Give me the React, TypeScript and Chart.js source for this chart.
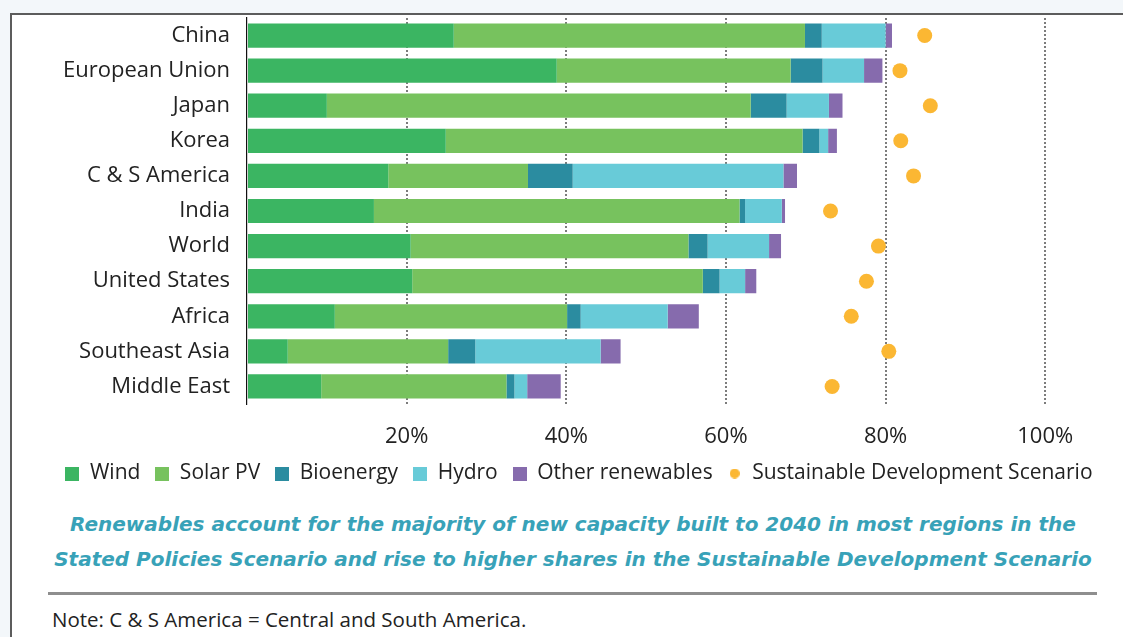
import React, { useEffect, useRef } from "react";
import { Chart, registerables } from "chart.js";

Chart.register(...registerables);

const regions = [
  "China",
  "European Union",
  "Japan",
  "Korea",
  "C & S America",
  "India",
  "World",
  "United States",
  "Africa",
  "Southeast Asia",
  "Middle East",
];

const wind = [25.9, 38.8, 10.0, 24.9, 17.7, 15.9, 20.5, 20.7, 11.0, 5.1, 9.3];
const solarPV = [44.0, 29.3, 53.1, 44.7, 17.5, 45.8, 34.8, 36.4, 29.1, 20.1, 23.2];
const bioenergy = [2.1, 4.0, 4.5, 2.1, 5.6, 0.7, 2.4, 2.1, 1.7, 3.4, 1.0];
const hydro = [8.0, 5.2, 5.3, 1.1, 26.4, 4.6, 7.7, 3.2, 10.9, 15.7, 1.6];
const otherRenewables = [0.8, 2.3, 1.7, 1.1, 1.7, 0.4, 1.5, 1.4, 3.9, 2.5, 4.2];
const sustainableDev = [84.9, 81.8, 85.6, 81.9, 83.5, 73.1, 79.1, 77.6, 75.7, 80.4, 73.3];

const xTickValues = [0, 20, 40, 60, 80, 100];

const COLORS = {
  wind: "#3bb562",
  solar: "#77c25e",
  bio: "#2b8ca0",
  hydro: "#68cbd8",
  other: "#866bad",
  dot: "#fbb733",
};

const FONT = "'Open Sans', sans-serif";
const TEXT = "#222222";

function makeIcon(color: string, shape: "rect" | "circle"): HTMLCanvasElement {
  const c = document.createElement("canvas");
  const size = shape === "rect" ? 14 : 10;
  c.width = size;
  c.height = size;
  const ctx = c.getContext("2d")!;
  ctx.fillStyle = color;
  if (shape === "rect") {
    ctx.fillRect(0, 0, size, size);
  } else {
    ctx.beginPath();
    ctx.arc(size / 2, size / 2, size / 2, 0, Math.PI * 2);
    ctx.fill();
  }
  return c;
}

export default function App() {
  const canvasRef = useRef<HTMLCanvasElement | null>(null);

  useEffect(() => {
    if (!canvasRef.current) return;
    const barDs = (label: string, data: number[], color: string) => ({
      type: "bar" as const,
      label,
      data,
      backgroundColor: color,
      borderWidth: 0,
      stack: "re",
      categoryPercentage: 1,
      barPercentage: 0.69,
      order: 2,
    });
    const icons = [
      makeIcon(COLORS.wind, "rect"),
      makeIcon(COLORS.solar, "rect"),
      makeIcon(COLORS.bio, "rect"),
      makeIcon(COLORS.hydro, "rect"),
      makeIcon(COLORS.other, "rect"),
      makeIcon(COLORS.dot, "circle"),
    ];
    const chart = new Chart(canvasRef.current, {
      type: "bar",
      data: {
        labels: regions,
        datasets: [
          barDs("Wind", wind, COLORS.wind),
          barDs("Solar PV", solarPV, COLORS.solar),
          barDs("Bioenergy", bioenergy, COLORS.bio),
          barDs("Hydro", hydro, COLORS.hydro),
          barDs("Other renewables", otherRenewables, COLORS.other),
          {
            type: "line" as const,
            label: "Sustainable Development Scenario",
            data: sustainableDev,
            indexAxis: "y",
            showLine: false,
            pointRadius: 7.5,
            pointHoverRadius: 7.5,
            pointBackgroundColor: COLORS.dot,
            pointBorderWidth: 0,
            borderColor: COLORS.dot,
            backgroundColor: COLORS.dot,
            stack: "sds",
            order: 1,
          } as any,
        ],
      },
      options: {
        indexAxis: "y",
        animation: false,
        responsive: false,
        maintainAspectRatio: false,
        layout: { padding: { top: 18, left: 0, right: 0, bottom: 0 } },
        scales: {
          x: {
            type: "linear",
            stacked: true,
            min: 0,
            max: 108.8,
            afterBuildTicks: (scale: any) => {
              scale.ticks = xTickValues.map((v) => ({ value: v }));
            },
            afterFit: (scale: any) => {
              scale.height = 44;
            },
            border: { display: false, dash: [2, 2] },
            grid: {
              drawTicks: false,
              color: (ctx: any) => (ctx.tick && ctx.tick.value === 0 ? "rgba(0,0,0,0)" : "#7c7c7c"),
              lineWidth: 2,
            },
            ticks: {
              padding: 20,
              color: TEXT,
              font: { family: FONT, size: 22 },
              callback: (v: any) => (Number(v) === 0 ? "" : v + "%"),
            },
          } as any,
          y: {
            stacked: true,
            afterFit: (scale: any) => {
              scale.width = 247;
              scale.paddingTop = 0;
              scale.paddingBottom = 0;
            },
            grid: { display: false, drawTicks: false },
            border: { display: true, color: "#111", width: 1.2 },
            ticks: {
              padding: 17,
              color: TEXT,
              font: { family: FONT, size: 22 },
            },
          },
        },
        plugins: {
          legend: {
            position: "bottom",
            align: "center",
            labels: {
              usePointStyle: true,
              boxWidth: 14,
              boxHeight: 14,
              padding: 15,
              color: TEXT,
              font: { family: FONT, size: 21 },
              generateLabels: (ch: any) =>
                ch.data.datasets.map((ds: any, i: number) => ({
                  text: ds.label,
                  fillStyle: ds.backgroundColor,
                  strokeStyle: ds.backgroundColor,
                  lineWidth: 0,
                  pointStyle: icons[i],
                  hidden: false,
                  datasetIndex: i,
                  fontColor: TEXT,
                })),
            },
          },
          tooltip: { enabled: false },
        },
      },
      plugins: [
        {
          id: "shiftLegend",
          afterLayout: (ch: any) => {
            const lg = ch.legend;
            if (lg) {
              const shift = 579 - (lg.left + lg.right) / 2;
              lg.left += shift;
              lg.right += shift;
            }
          },
        },
      ],
    });
    return () => chart.destroy();
  }, []);

  return (
    <div
      style={{
        position: "fixed",
        left: 0,
        top: 0,
        width: 1123,
        height: 637,
        background: "#f3f7fa",
        overflow: "hidden",
      }}
    >
      <div
        style={{
          position: "absolute",
          left: 10,
          top: 13,
          width: 1123,
          height: 640,
          background: "#fff",
          borderLeft: "2px solid #5c5c5c",
          borderTop: "2px solid #5c5c5c",
        }}
      />
      <canvas
        ref={canvasRef}
        width={1123}
        height={494}
        style={{ position: "absolute", left: 0, top: 0, width: 1123, height: 494 }}
      />
      <div
        style={{
          position: "absolute",
          left: 40,
          top: 507,
          width: 1066,
          textAlign: "center",
          color: "#38a2b8",
          fontFamily: "'DejaVu Sans', sans-serif",
          fontStyle: "oblique",
          fontWeight: 700,
          fontSize: 20,
          lineHeight: "35px",
          whiteSpace: "nowrap",
        }}
      >
        Renewables account for the majority of new capacity built to 2040 in most regions in the
        <br />
        Stated Policies Scenario and rise to higher shares in the Sustainable Development Scenario
      </div>
      <div
        style={{
          position: "absolute",
          left: 48,
          top: 592,
          width: 1049,
          height: 3,
          background: "#8e8e8e",
        }}
      />
      <div
        style={{
          position: "absolute",
          left: 52,
          top: 606,
          color: TEXT,
          fontFamily: FONT,
          fontSize: 20.5,
          lineHeight: "26px",
          whiteSpace: "nowrap",
        }}
      >
        Note: C &amp; S America = Central and South America.
      </div>
    </div>
  );
}
